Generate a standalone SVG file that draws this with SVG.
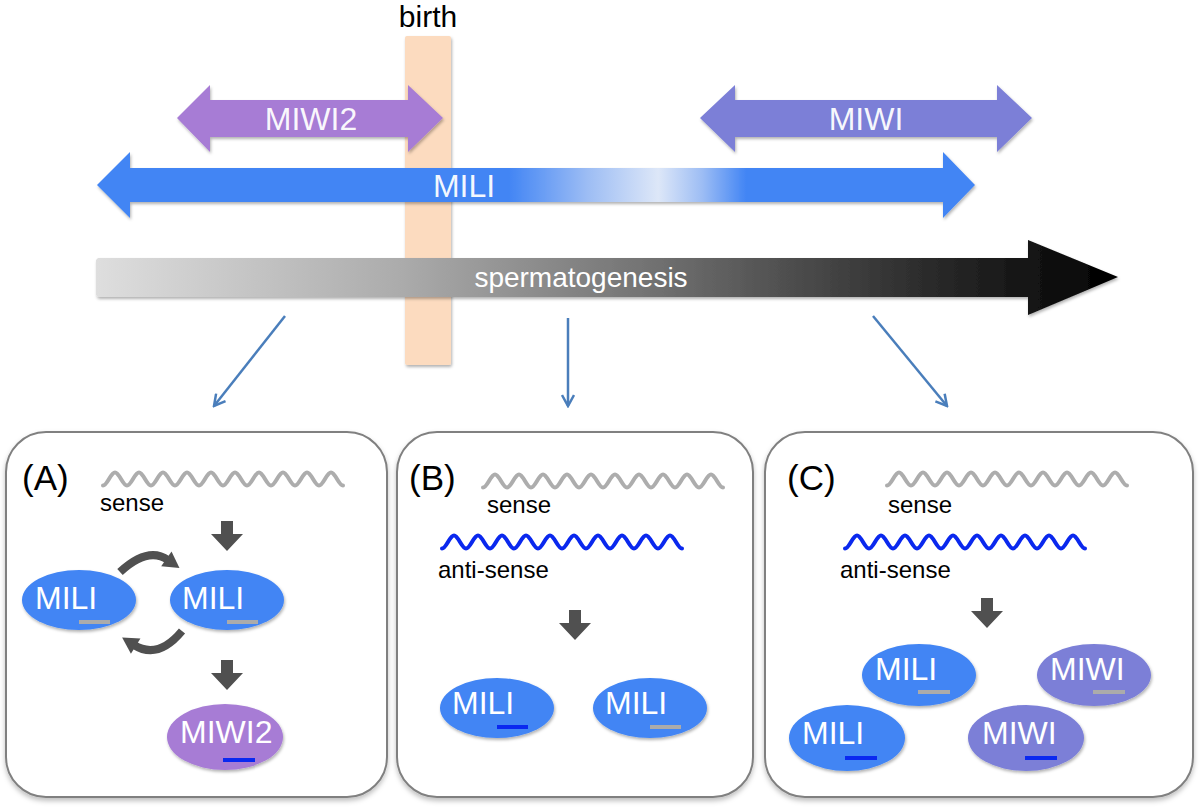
<svg xmlns="http://www.w3.org/2000/svg" width="1200" height="807" viewBox="0 0 1200 807">
<defs>
<style>
.lbl{font-family:"Liberation Sans",Arial,sans-serif;fill:#ffffff}
.blk{font-family:"Liberation Sans",Arial,sans-serif;fill:#000000}
.panel{fill:#ffffff;stroke:#808080;stroke-width:2}
.mili{fill:#4285F4}
.miwi{fill:#7B7FD7}
.miwi2{fill:#A77CD5}
.gdash{fill:#ABABAB}
.bdash{fill:#0A28F0}
.sense{fill:none;stroke:#ADADAD;stroke-width:4;stroke-linecap:round}
.anti{fill:none;stroke:#0A28EE;stroke-width:4;stroke-linecap:round}
.conn{fill:none;stroke:#4A7EBB;stroke-width:2.5}
.curv{fill:none;stroke:#505050;stroke-width:8}
</style>
<filter id="sh" x="-10%" y="-20%" width="120%" height="150%">
<feDropShadow dx="1" dy="2" stdDeviation="1.5" flood-color="#000" flood-opacity="0.3"/>
</filter>
<filter id="psh" x="-5%" y="-5%" width="110%" height="115%">
<feDropShadow dx="0" dy="3" stdDeviation="2.5" flood-color="#000" flood-opacity="0.25"/>
</filter>
<linearGradient id="gMili" gradientUnits="userSpaceOnUse" x1="95" y1="0" x2="975" y2="0">
<stop offset="0" stop-color="#4285F4"/>
<stop offset="0.47" stop-color="#4285F4"/>
<stop offset="0.56" stop-color="#9DBDF4"/>
<stop offset="0.64" stop-color="#DDE7F8"/>
<stop offset="0.69" stop-color="#9DBDF4"/>
<stop offset="0.74" stop-color="#4285F4"/>
<stop offset="1" stop-color="#4285F4"/>
</linearGradient>
<linearGradient id="gSperm" gradientUnits="userSpaceOnUse" x1="96" y1="0" x2="1118" y2="0">
<stop offset="0" stop-color="#DEDEDE"/>
<stop offset="0.3" stop-color="#ABABAB"/>
<stop offset="0.55" stop-color="#707070"/>
<stop offset="0.8" stop-color="#2E2E2E"/>
<stop offset="1" stop-color="#000000"/>
</linearGradient>
<marker id="vhead" viewBox="0 0 14 14" refX="12" refY="7" markerWidth="14" markerHeight="14" markerUnits="userSpaceOnUse" orient="auto">
<path d="M1,1 L12,7 L1,13" fill="none" stroke="#4A7EBB" stroke-width="2.5"/>
</marker>
<marker id="chead" viewBox="0 0 20 20" refX="4" refY="10" markerWidth="20" markerHeight="20" markerUnits="userSpaceOnUse" orient="auto">
<path d="M2,1 L18,10 L2,19 z" fill="#505050"/>
</marker>
<path id="down" d="M-6,0 h12 v13 h10 l-16,17 l-16,-17 h10 z" fill="#505050"/>
<path id="wave" d="M0,6.5 c4.3,0 7.7,-13 12,-13 c4.3,0 7.7,13 12,13 c4.3,0 7.7,-13 12,-13 c4.3,0 7.7,13 12,13 c4.3,0 7.7,-13 12,-13 c4.3,0 7.7,13 12,13 c4.3,0 7.7,-13 12,-13 c4.3,0 7.7,13 12,13 c4.3,0 7.7,-13 12,-13 c4.3,0 7.7,13 12,13 c4.3,0 7.7,-13 12,-13 c4.3,0 7.7,13 12,13 c4.3,0 7.7,-13 12,-13 c4.3,0 7.7,13 12,13 c4.3,0 7.7,-13 12,-13 c4.3,0 7.7,13 12,13 c4.3,0 7.7,-13 12,-13 c4.3,0 7.7,13 12,13 c4.3,0 7.7,-13 12,-13 c4.3,0 7.7,13 12,13"/>
</defs>
<rect width="1200" height="807" fill="#ffffff"/>

<g id="birth">
<rect x="405" y="36" width="46" height="329" rx="2" fill="#FCDBBF" filter="url(#sh)"/>
<text class="blk" x="428" y="27" font-size="30" text-anchor="middle">birth</text>
</g>

<g id="miwi2-range">
<polygon points="177,118 210,85 210,100 408,100 408,85 443,118 408,152 408,137 210,137 210,152" fill="#A77CD5" filter="url(#sh)"/>
<text class="lbl" x="311" y="130" font-size="32" text-anchor="middle" fill-opacity="0.95">MIWI2</text>
</g>

<g id="miwi-range">
<polygon points="700,118 735,85 735,100 997,100 997,85 1032,118 997,152 997,137 735,137 735,152" fill="#7B7FD7" filter="url(#sh)"/>
<text class="lbl" x="866" y="130" font-size="32" text-anchor="middle" fill-opacity="0.95">MIWI</text>
</g>

<g id="mili-range">
<polygon points="97,185 130,152 130,168 943,168 943,152 975,185 943,218 943,202 130,202 130,218" fill="url(#gMili)" filter="url(#sh)"/>
<text class="lbl" x="464" y="197" font-size="32" text-anchor="middle" fill-opacity="0.95">MILI</text>
</g>

<g id="spermatogenesis">
<polygon points="98,258 1028,258 1028,240 1118,277 1028,315 1028,297 98,297 96,295 96,260" fill="url(#gSperm)" filter="url(#sh)"/>
<text class="lbl" x="581" y="287" font-size="28" text-anchor="middle" fill="#EEEEEE">spermatogenesis</text>
</g>

<g id="connectors">
<line class="conn" x1="285" y1="316" x2="214" y2="406" marker-end="url(#vhead)"/>
<line class="conn" x1="568" y1="318" x2="568" y2="406" marker-end="url(#vhead)"/>
<line class="conn" x1="873" y1="316" x2="947" y2="406" marker-end="url(#vhead)"/>
</g>

<g id="panel-A">
<rect class="panel" x="6" y="432" width="381" height="365" rx="40" filter="url(#psh)"/>
<text class="blk" x="22" y="490" font-size="35">(A)</text>
<use href="#wave" class="sense" x="103" y="479"/>
<text class="blk" x="100" y="511" font-size="24">sense</text>
<use href="#down" x="227" y="521"/>
<path class="curv" d="M120,572 Q148,546 168,560" marker-end="url(#chead)"/>
<path class="curv" d="M182,631 Q158,660 134,645" marker-end="url(#chead)"/>
<g filter="url(#sh)">
<ellipse class="mili" cx="79" cy="600" rx="57" ry="30"/>
<ellipse class="mili" cx="227" cy="600" rx="57" ry="30"/>
<ellipse class="miwi2" cx="225" cy="737" rx="58" ry="33"/>
</g>
<text class="lbl" x="35" y="609" font-size="32">MILI</text>
<rect class="gdash" x="79" y="620" width="31" height="4"/>
<text class="lbl" x="182" y="609" font-size="32">MILI</text>
<rect class="gdash" x="227" y="620" width="31" height="4"/>
<use href="#down" x="227" y="660"/>
<text class="lbl" x="180" y="743" font-size="32">MIWI2</text>
<rect class="bdash" x="223" y="758" width="32" height="4"/>
</g>

<g id="panel-B">
<rect class="panel" x="397" y="432" width="356" height="365" rx="40" filter="url(#psh)"/>
<text class="blk" x="409" y="490" font-size="35">(B)</text>
<use href="#wave" class="sense" x="483" y="481"/>
<text class="blk" x="487" y="513" font-size="24">sense</text>
<use href="#wave" class="anti" x="442" y="542"/>
<text class="blk" x="438" y="578" font-size="24">anti-sense</text>
<use href="#down" x="575" y="610"/>
<g filter="url(#sh)">
<ellipse class="mili" cx="497" cy="708" rx="57" ry="30"/>
<ellipse class="mili" cx="650" cy="708" rx="57" ry="30"/>
</g>
<text class="lbl" x="452" y="714" font-size="32">MILI</text>
<rect class="bdash" x="497" y="725" width="31" height="4"/>
<text class="lbl" x="605" y="714" font-size="32">MILI</text>
<rect class="gdash" x="650" y="725" width="31" height="4"/>
</g>

<g id="panel-C">
<rect class="panel" x="765" y="432" width="428" height="365" rx="40" filter="url(#psh)"/>
<text class="blk" x="787" y="490" font-size="35">(C)</text>
<use href="#wave" class="sense" x="887" y="479"/>
<text class="blk" x="888" y="513" font-size="24">sense</text>
<use href="#wave" class="anti" x="845" y="542"/>
<text class="blk" x="840" y="578" font-size="24">anti-sense</text>
<use href="#down" x="987" y="598"/>
<g filter="url(#sh)">
<ellipse class="mili" cx="919" cy="675" rx="57" ry="31"/>
<ellipse class="miwi" cx="1094" cy="675" rx="57" ry="31"/>
<ellipse class="mili" cx="847" cy="738" rx="58" ry="33"/>
<ellipse class="miwi" cx="1026" cy="738" rx="58" ry="33"/>
</g>
<text class="lbl" x="875" y="680" font-size="32">MILI</text>
<rect class="gdash" x="918" y="690" width="32" height="4"/>
<text class="lbl" x="1050" y="680" font-size="32">MIWI</text>
<rect class="gdash" x="1093" y="690" width="32" height="4"/>
<text class="lbl" x="802" y="744" font-size="32">MILI</text>
<rect class="bdash" x="845" y="756" width="32" height="4"/>
<text class="lbl" x="982" y="744" font-size="32">MIWI</text>
<rect class="bdash" x="1025" y="756" width="32" height="4"/>
</g>
</svg>
